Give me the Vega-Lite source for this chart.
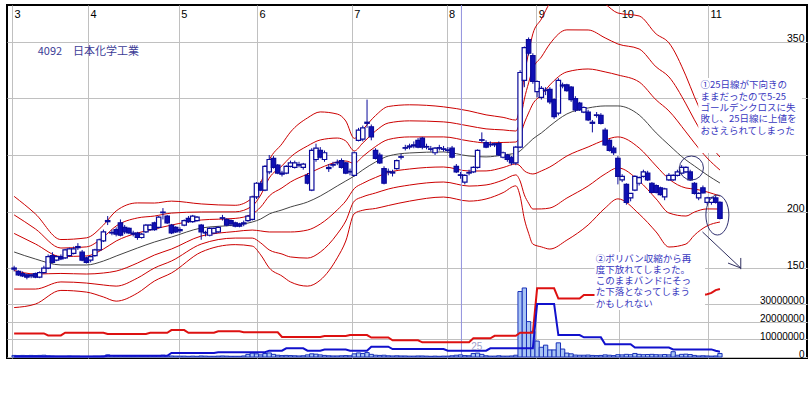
{
"$schema":"https://vega.github.io/schema/vega-lite/v6.json",
"width":800,"height":353,"autosize":"none",
"padding":{"left":7,"top":5,"right":4,"bottom":42},
"background":"white",
"config":{"view":{"stroke":"#000000","strokeWidth":2},"axis":{"labelFont":"Liberation Sans","labelColor":"#000000"}},
"datasets":{
"d":[
{"i":0,"o":149,"h":152,"l":147,"c":150,"v":0.9,"vr":13.3,"vb":0.3},
{"i":1,"o":147,"h":148,"l":143,"c":144,"v":0.8,"vr":13.3,"vb":0.3},
{"i":2,"o":145,"h":147,"l":142,"c":143,"v":0.9,"vr":13.3,"vb":0.3},
{"i":3,"o":144,"h":145,"l":140,"c":142,"v":0.8,"vr":13.3,"vb":0.3},
{"i":4,"o":143,"h":145,"l":141,"c":144,"v":0.9,"vr":13.3,"vb":0.3},
{"i":5,"o":145,"h":146,"l":141,"c":142,"v":0.8,"vr":13.3,"vb":0.3},
{"i":6,"o":142,"h":147,"l":141,"c":146,"v":0.9,"vr":13.3,"vb":0.3},
{"i":7,"o":146,"h":152,"l":145,"c":150,"v":1.0,"vr":13.3,"vb":0.3},
{"i":8,"o":150,"h":162,"l":149,"c":160,"v":0.7,"vr":12.2,"vb":0.3},
{"i":9,"o":161,"h":164,"l":154,"c":155,"v":0.6,"vr":12.2,"vb":0.3},
{"i":10,"o":157,"h":161,"l":156,"c":160,"v":0.5,"vr":12.2,"vb":0.3},
{"i":11,"o":160,"h":162,"l":157,"c":158,"v":0.5,"vr":12.2,"vb":0.3},
{"i":12,"o":159,"h":167,"l":158,"c":166,"v":0.5,"vr":13.7,"vb":0.3},
{"i":13,"o":161,"h":168,"l":160,"c":167,"v":0.6,"vr":13.7,"vb":0.3},
{"i":14,"o":163,"h":169,"l":162,"c":167,"v":0.5,"vr":13.7,"vb":0.3},
{"i":15,"o":168,"h":172,"l":166,"c":169,"v":0.5,"vr":13.7,"vb":0.3},
{"i":16,"o":164,"h":166,"l":156,"c":157,"v":0.4,"vr":13.7,"vb":0.3},
{"i":17,"o":159,"h":160,"l":154,"c":155,"v":0.4,"vr":13.7,"vb":0.3},
{"i":18,"o":157,"h":161,"l":155,"c":160,"v":0.4,"vr":13.7,"vb":0.3},
{"i":19,"o":161,"h":167,"l":160,"c":166,"v":0.5,"vr":13.7,"vb":0.3},
{"i":20,"o":166,"h":176,"l":165,"c":175,"v":0.5,"vr":13.7,"vb":0.3},
{"i":21,"o":174,"h":184,"l":173,"c":182,"v":0.6,"vr":13.7,"vb":0.3},
{"i":22,"o":191,"h":196,"l":188,"c":192,"v":1.2,"vr":13.0,"vb":0.7},
{"i":23,"o":181,"h":184,"l":179,"c":181.5,"v":0.8,"vr":13.0,"vb":0.7},
{"i":24,"o":184,"h":186,"l":178,"c":180,"v":0.6,"vr":13.0,"vb":0.7},
{"i":25,"o":190,"h":193,"l":178,"c":179,"v":0.6,"vr":13.0,"vb":0.7},
{"i":26,"o":186,"h":188,"l":180,"c":182,"v":0.5,"vr":13.0,"vb":0.7},
{"i":27,"o":185,"h":186,"l":180,"c":181,"v":0.5,"vr":13.0,"vb":0.7},
{"i":28,"o":181,"h":183,"l":178,"c":180,"v":0.4,"vr":13.0,"vb":0.7},
{"i":29,"o":181,"h":182,"l":175,"c":177,"v":0.5,"vr":13.0,"vb":0.7},
{"i":30,"o":177,"h":181,"l":176,"c":180,"v":0.4,"vr":13.0,"vb":0.7},
{"i":31,"o":182,"h":189,"l":181,"c":188,"v":0.5,"vr":13.0,"vb":0.7},
{"i":32,"o":184,"h":189,"l":183,"c":188,"v":0.6,"vr":13.7,"vb":0.7},
{"i":33,"o":190,"h":191,"l":183,"c":184,"v":0.5,"vr":13.7,"vb":0.7},
{"i":34,"o":186,"h":196,"l":185,"c":195,"v":0.6,"vr":13.7,"vb":0.7},
{"i":35,"o":199,"h":203,"l":193,"c":199.5,"v":1.0,"vr":13.7,"vb":0.7},
{"i":36,"o":196,"h":197,"l":189,"c":190,"v":0.7,"vr":13.7,"vb":0.7},
{"i":37,"o":188,"h":189,"l":180,"c":181,"v":0.6,"vr":15.2,"vb":2.3},
{"i":38,"o":186,"h":187,"l":181,"c":182,"v":0.5,"vr":15.2,"vb":2.3},
{"i":39,"o":183,"h":186,"l":181,"c":184,"v":0.5,"vr":15.2,"vb":2.3},
{"i":40,"o":188,"h":193,"l":187,"c":192,"v":0.5,"vr":15.2,"vb":2.3},
{"i":41,"o":194,"h":196,"l":190,"c":191,"v":0.4,"vr":13.7,"vb":2.3},
{"i":42,"o":191,"h":197,"l":190,"c":196,"v":0.5,"vr":13.7,"vb":2.3},
{"i":43,"o":192,"h":196,"l":191,"c":195,"v":0.4,"vr":13.7,"vb":2.3},
{"i":44,"o":188,"h":189,"l":175,"c":182,"v":0.6,"vr":13.7,"vb":2.3},
{"i":45,"o":181,"h":183,"l":178,"c":181.5,"v":0.5,"vr":13.7,"vb":2.3},
{"i":46,"o":179,"h":186,"l":178,"c":185,"v":0.4,"vr":13.7,"vb":2.3},
{"i":47,"o":181,"h":186,"l":180,"c":185,"v":0.4,"vr":13.7,"vb":2.3},
{"i":48,"o":182,"h":187,"l":181,"c":186,"v":0.5,"vr":14.5,"vb":2.7},
{"i":49,"o":194,"h":197,"l":192,"c":194.5,"v":0.6,"vr":14.5,"vb":2.7},
{"i":50,"o":193,"h":194,"l":187,"c":188,"v":0.5,"vr":14.5,"vb":2.7},
{"i":51,"o":192,"h":193,"l":187,"c":189,"v":0.4,"vr":14.5,"vb":2.7},
{"i":52,"o":190,"h":191,"l":186,"c":187,"v":0.4,"vr":14.5,"vb":2.7},
{"i":53,"o":189,"h":190,"l":186,"c":187,"v":0.4,"vr":14.5,"vb":2.7},
{"i":54,"o":189,"h":192,"l":187,"c":190,"v":0.6,"vr":14.0,"vb":2.7},
{"i":55,"o":192,"h":197,"l":191,"c":196,"v":1.5,"vr":14.0,"vb":2.7},
{"i":56,"o":193,"h":214,"l":192,"c":213,"v":2.2,"vr":14.0,"vb":2.7},
{"i":57,"o":213,"h":226,"l":211,"c":225,"v":1.8,"vr":14.0,"vb":2.7},
{"i":58,"o":225,"h":227,"l":218,"c":219,"v":1.2,"vr":14.0,"vb":2.7},
{"i":59,"o":219,"h":241,"l":218,"c":240,"v":2.0,"vr":14.0,"vb":2.7},
{"i":60,"o":235,"h":250,"l":233,"c":246,"v":2.3,"vr":14.0,"vb":3.6},
{"i":61,"o":247,"h":249,"l":238,"c":239,"v":1.5,"vr":14.0,"vb":3.6},
{"i":62,"o":241,"h":242,"l":233,"c":234,"v":1.0,"vr":14.0,"vb":3.6},
{"i":63,"o":233,"h":236,"l":231,"c":234,"v":0.8,"vr":11.3,"vb":3.6},
{"i":64,"o":234,"h":241,"l":233,"c":240,"v":0.9,"vr":11.3,"vb":4.9},
{"i":65,"o":240,"h":245,"l":239,"c":243,"v":0.8,"vr":11.3,"vb":4.9},
{"i":66,"o":239,"h":245,"l":238,"c":243,"v":0.7,"vr":11.3,"vb":4.9},
{"i":67,"o":241,"h":244,"l":239,"c":241.5,"v":0.6,"vr":11.3,"vb":4.9},
{"i":68,"o":239,"h":243,"l":237,"c":242,"v":0.7,"vr":11.3,"vb":4.9},
{"i":69,"o":232,"h":234,"l":224,"c":225,"v":1.2,"vr":11.3,"vb":3.6},
{"i":70,"o":219,"h":256,"l":218,"c":254,"v":1.8,"vr":11.3,"vb":3.6},
{"i":71,"o":246,"h":260,"l":244,"c":256,"v":1.6,"vr":11.3,"vb":3.6},
{"i":72,"o":254,"h":257,"l":247,"c":248,"v":1.2,"vr":11.3,"vb":3.6},
{"i":73,"o":246,"h":254,"l":244,"c":252,"v":0.9,"vr":11.9,"vb":4.2},
{"i":74,"o":238,"h":242,"l":235,"c":239,"v":0.7,"vr":11.9,"vb":4.2},
{"i":75,"o":241,"h":244,"l":239,"c":241.5,"v":0.6,"vr":11.9,"vb":4.2},
{"i":76,"o":243,"h":246,"l":241,"c":243.5,"v":0.6,"vr":11.9,"vb":4.2},
{"i":77,"o":245,"h":247,"l":238,"c":239,"v":0.7,"vr":11.9,"vb":4.2},
{"i":78,"o":243,"h":244,"l":233,"c":234,"v":0.8,"vr":11.9,"vb":4.2},
{"i":79,"o":235,"h":238,"l":232,"c":235.5,"v":0.7,"vr":12.4,"vb":3.6},
{"i":80,"o":232,"h":253,"l":231,"c":252,"v":1.8,"vr":12.4,"vb":3.6},
{"i":81,"o":263,"h":274,"l":262,"c":272,"v":2.3,"vr":12.4,"vb":3.6},
{"i":82,"o":264,"h":276,"l":262,"c":274,"v":2.0,"vr":12.4,"vb":3.6},
{"i":83,"o":278,"h":299,"l":274,"c":279,"v":2.5,"vr":12.4,"vb":3.6},
{"i":84,"o":275,"h":277,"l":263,"c":266,"v":1.5,"vr":11.0,"vb":5.8},
{"i":85,"o":254,"h":256,"l":246,"c":247,"v":1.0,"vr":11.0,"vb":5.8},
{"i":86,"o":250,"h":252,"l":242,"c":243,"v":0.9,"vr":11.0,"vb":5.8},
{"i":87,"o":238,"h":240,"l":224,"c":225,"v":1.0,"vr":11.0,"vb":5.8},
{"i":88,"o":235,"h":238,"l":232,"c":235.5,"v":0.7,"vr":11.0,"vb":5.8},
{"i":89,"o":234,"h":237,"l":231,"c":235,"v":0.6,"vr":9.4,"vb":4.5},
{"i":90,"o":238,"h":246,"l":237,"c":245,"v":0.7,"vr":9.4,"vb":4.5},
{"i":91,"o":248,"h":251,"l":246,"c":248.5,"v":0.6,"vr":9.4,"vb":4.5},
{"i":92,"o":256,"h":259,"l":254,"c":256.5,"v":0.6,"vr":9.4,"vb":4.5},
{"i":93,"o":257,"h":260,"l":255,"c":258,"v":0.5,"vr":9.4,"vb":4.5},
{"i":94,"o":258,"h":262,"l":256,"c":259,"v":0.5,"vr":9.4,"vb":4.5},
{"i":95,"o":263,"h":265,"l":256,"c":257,"v":0.6,"vr":9.4,"vb":4.5},
{"i":96,"o":265,"h":266,"l":255,"c":257,"v":0.6,"vr":8.3,"vb":4.5},
{"i":97,"o":257,"h":260,"l":255,"c":257.5,"v":0.5,"vr":8.3,"vb":4.5},
{"i":98,"o":255,"h":258,"l":253,"c":255.5,"v":0.4,"vr":8.3,"vb":4.5},
{"i":99,"o":252,"h":257,"l":250,"c":256,"v":0.5,"vr":8.3,"vb":4.5},
{"i":100,"o":256,"h":259,"l":254,"c":256.5,"v":0.4,"vr":8.3,"vb":4.5},
{"i":101,"o":255,"h":258,"l":253,"c":255.5,"v":0.5,"vr":8.3,"vb":4.5},
{"i":102,"o":254,"h":257,"l":252,"c":254.5,"v":0.5,"vr":8.3,"vb":3.6},
{"i":103,"o":256,"h":258,"l":247,"c":248,"v":0.7,"vr":8.3,"vb":3.6},
{"i":104,"o":240,"h":242,"l":234,"c":235,"v":1.0,"vr":8.3,"vb":3.6},
{"i":105,"o":232,"h":235,"l":229,"c":232.5,"v":1.2,"vr":8.3,"vb":3.6},
{"i":106,"o":226,"h":233,"l":224,"c":232,"v":0.8,"vr":8.3,"vb":3.6},
{"i":107,"o":234,"h":237,"l":232,"c":234.5,"v":0.7,"vr":8.3,"vb":3.6},
{"i":108,"o":235,"h":240,"l":234,"c":239,"v":2.0,"vr":10.6,"vb":3.6},
{"i":109,"o":239,"h":255,"l":238,"c":254,"v":2.2,"vr":10.6,"vb":3.6},
{"i":110,"o":263,"h":270,"l":261,"c":263.5,"v":1.5,"vr":10.6,"vb":3.6},
{"i":111,"o":261,"h":263,"l":256,"c":257,"v":0.7,"vr":10.6,"vb":3.6},
{"i":112,"o":259,"h":262,"l":257,"c":259.5,"v":0.5,"vr":10.6,"vb":4.9},
{"i":113,"o":259,"h":261,"l":257,"c":260,"v":0.5,"vr":12.0,"vb":4.9},
{"i":114,"o":260,"h":262,"l":249,"c":250,"v":0.7,"vr":12.0,"vb":4.9},
{"i":115,"o":248,"h":253,"l":247,"c":252,"v":0.5,"vr":12.0,"vb":4.9},
{"i":116,"o":250,"h":251,"l":244,"c":246,"v":0.5,"vr":12.0,"vb":4.9},
{"i":117,"o":248,"h":249,"l":241,"c":243,"v":0.6,"vr":12.0,"vb":4.9},
{"i":118,"o":243,"h":258,"l":241,"c":257,"v":1.0,"vr":12.0,"vb":4.9},
{"i":119,"o":257,"h":325,"l":256,"c":323,"v":37,"vr":13.7,"vb":4.9},
{"i":120,"o":316,"h":346,"l":310,"c":345,"v":39,"vr":13.7,"vb":4.9},
{"i":121,"o":352,"h":354,"l":338,"c":340,"v":20,"vr":13.7,"vb":4.9},
{"i":122,"o":338,"h":340,"l":313,"c":315,"v":14.5,"vr":13.7,"vb":4.9},
{"i":123,"o":306,"h":316,"l":301,"c":315,"v":9,"vr":38.8,"vb":30},
{"i":124,"o":301,"h":311,"l":299,"c":309,"v":5.5,"vr":38.8,"vb":30},
{"i":125,"o":307,"h":310,"l":303,"c":307.5,"v":6.7,"vr":38.8,"vb":30},
{"i":126,"o":308,"h":310,"l":295,"c":297,"v":4,"vr":38.8,"vb":30},
{"i":127,"o":299,"h":300,"l":282,"c":284,"v":4,"vr":38.8,"vb":30},
{"i":128,"o":287,"h":318,"l":285,"c":316,"v":8,"vr":33.0,"vb":12.4},
{"i":129,"o":311,"h":314,"l":309,"c":312,"v":4.5,"vr":33.0,"vb":12.4},
{"i":130,"o":312,"h":313,"l":306,"c":307,"v":2.2,"vr":33.0,"vb":12.4},
{"i":131,"o":310,"h":311,"l":297,"c":299,"v":1.8,"vr":33.0,"vb":12.4},
{"i":132,"o":300,"h":302,"l":288,"c":290,"v":1.1,"vr":33.0,"vb":12.4},
{"i":133,"o":296,"h":297,"l":289,"c":290,"v":1.0,"vr":33.0,"vb":12.4},
{"i":134,"o":288,"h":293,"l":287,"c":292,"v":1.0,"vr":35.0,"vb":11.1},
{"i":135,"o":288,"h":290,"l":280,"c":281,"v":1.1,"vr":35.0,"vb":11.1},
{"i":136,"o":278,"h":281,"l":270,"c":279,"v":0.9,"vr":35.0,"vb":11.1},
{"i":137,"o":285,"h":288,"l":283,"c":285.5,"v":0.8,"vr":35.0,"vb":11.1},
{"i":138,"o":285,"h":287,"l":277,"c":278,"v":0.9,"vr":35.0,"vb":11.1},
{"i":139,"o":272,"h":274,"l":258,"c":259,"v":1.2,"vr":35.0,"vb":7.2},
{"i":140,"o":263,"h":264,"l":253,"c":254,"v":1.0,"vr":35.0,"vb":7.2},
{"i":141,"o":256,"h":258,"l":250,"c":252,"v":0.8,"vr":35.0,"vb":7.2},
{"i":142,"o":247,"h":249,"l":224,"c":231,"v":1.3,"vr":35.0,"vb":7.2},
{"i":143,"o":228,"h":233,"l":226,"c":231,"v":1.2,"vr":35.0,"vb":7.2},
{"i":144,"o":224,"h":225,"l":206,"c":208,"v":1.5,"vr":35.0,"vb":7.2},
{"i":145,"o":212,"h":216,"l":209,"c":216,"v":1.3,"vr":35.0,"vb":7.2},
{"i":146,"o":219,"h":232,"l":218,"c":231,"v":2.0,"vr":35.0,"vb":5.3},
{"i":147,"o":225,"h":231,"l":223,"c":230,"v":1.5,"vr":35.0,"vb":5.3},
{"i":148,"o":231,"h":237,"l":230,"c":235,"v":1.3,"vr":35.0,"vb":5.3},
{"i":149,"o":234,"h":236,"l":227,"c":228,"v":1.4,"vr":35.0,"vb":5.3},
{"i":150,"o":225,"h":226,"l":216,"c":217,"v":1.5,"vr":35.0,"vb":5.3},
{"i":151,"o":223,"h":224,"l":216,"c":217,"v":1.3,"vr":35.0,"vb":5.3},
{"i":152,"o":221,"h":222,"l":214,"c":215,"v":1.2,"vr":35.0,"vb":5.3},
{"i":153,"o":213,"h":221,"l":210,"c":220,"v":1.4,"vr":35.0,"vb":5.3},
{"i":154,"o":228,"h":234,"l":227,"c":232,"v":1.2,"vr":35.0,"vb":5.3},
{"i":155,"o":228,"h":233,"l":227,"c":232,"v":3.0,"vr":35.0,"vb":4.3},
{"i":156,"o":232,"h":237,"l":231,"c":235,"v":1.0,"vr":35.0,"vb":4.3},
{"i":157,"o":234,"h":241,"l":233,"c":239,"v":1.5,"vr":35.0,"vb":4.3},
{"i":158,"o":235,"h":240,"l":234,"c":239,"v":1.6,"vr":35.0,"vb":4.3},
{"i":159,"o":235,"h":237,"l":227,"c":228,"v":1.4,"vr":35.0,"vb":4.3},
{"i":160,"o":225,"h":226,"l":215,"c":216,"v":0.9,"vr":35.0,"vb":4.3},
{"i":161,"o":212,"h":217,"l":210,"c":216,"v":0.6,"vr":35.0,"vb":4.3},
{"i":162,"o":221,"h":223,"l":216,"c":216.5,"v":0.7,"vr":35.0,"vb":4.3},
{"i":163,"o":208,"h":213,"l":206,"c":212,"v":0.6,"vr":35.5,"vb":4.3},
{"i":164,"o":208,"h":213,"l":206,"c":212,"v":0.5,"vr":36.2,"vb":4.3},
{"i":165,"o":212,"h":214,"l":207,"c":208,"v":0.6,"vr":37.8,"vb":3.5},
{"i":166,"o":208,"h":209,"l":193,"c":194,"v":2.0,"vr":38.4,"vb":3.0}
],
"b":[
{"i":0,"u3":213.4,"u2":197.0,"u1":180.6,"m":164.2,"l1":147.8,"l2":131.4,"l3":115.0},
{"i":5,"u3":197.9,"u2":184.6,"u1":171.3,"m":158.0,"l1":144.7,"l2":131.4,"l3":118.1},
{"i":11,"u3":175.2,"u2":167.7,"u1":160.2,"m":152.7,"l1":145.2,"l2":137.7,"l3":130.2},
{"i":17,"u3":176.7,"u2":168.7,"u1":160.7,"m":152.7,"l1":144.7,"l2":136.7,"l3":128.7},
{"i":21,"u3":188.0,"u2":177.4,"u1":166.8,"m":156.2,"l1":145.6,"l2":135.0,"l3":124.4},
{"i":24,"u3":200.5,"u2":187.2,"u1":173.9,"m":160.6,"l1":147.3,"l2":134.0,"l3":120.7},
{"i":29,"u3":207.6,"u2":194.3,"u1":181.0,"m":167.7,"l1":154.4,"l2":141.1,"l3":127.8},
{"i":33,"u3":207.5,"u2":196.0,"u1":184.5,"m":173.0,"l1":161.5,"l2":150.0,"l3":138.5},
{"i":37,"u3":209.2,"u2":198.6,"u1":188.0,"m":177.4,"l1":166.8,"l2":156.2,"l3":145.6},
{"i":44,"u3":206.7,"u2":199.6,"u1":192.5,"m":185.4,"l1":178.3,"l2":171.2,"l3":164.1},
{"i":52,"u3":205.5,"u2":199.7,"u1":193.9,"m":188.1,"l1":182.3,"l2":176.5,"l3":170.7},
{"i":56,"u3":212.0,"u2":204.9,"u1":197.8,"m":190.7,"l1":183.6,"l2":176.5,"l3":169.4},
{"i":58,"u3":225.2,"u2":214.6,"u1":204.0,"m":193.4,"l1":182.8,"l2":172.2,"l3":161.6},
{"i":60,"u3":245.5,"u2":229.6,"u1":213.7,"m":197.8,"l1":181.9,"l2":166.0,"l3":150.1},
{"i":63,"u3":259.9,"u2":240.4,"u1":220.9,"m":201.4,"l1":181.9,"l2":162.4,"l3":142.9},
{"i":65,"u3":270.3,"u2":248.2,"u1":226.1,"m":204.0,"l1":181.9,"l2":159.8,"l3":137.7},
{"i":69,"u3":282.8,"u2":258.0,"u1":233.2,"m":208.4,"l1":183.6,"l2":158.8,"l3":134.0},
{"i":72,"u3":288.1,"u2":263.3,"u1":238.5,"m":213.7,"l1":188.9,"l2":164.1,"l3":139.3},
{"i":76,"u3":286.2,"u2":265.0,"u1":243.8,"m":222.6,"l1":201.4,"l2":180.2,"l3":159.0},
{"i":78,"u3":280.1,"u2":262.4,"u1":244.7,"m":227.0,"l1":209.3,"l2":191.6,"l3":173.9},
{"i":80,"u3":264.7,"u2":253.6,"u1":242.5,"m":231.4,"l1":220.3,"l2":209.2,"l3":198.1},
{"i":82,"u3":272.5,"u2":260.6,"u1":248.7,"m":236.8,"l1":224.9,"l2":213.0,"l3":201.1},
{"i":85,"u3":284.9,"u2":271.2,"u1":257.5,"m":243.8,"l1":230.1,"l2":216.4,"l3":202.7},
{"i":88,"u3":292.9,"u2":278.3,"u1":263.7,"m":249.1,"l1":234.5,"l2":219.9,"l3":205.3},
{"i":93,"u3":294.4,"u2":280.2,"u1":266.0,"m":251.8,"l1":237.6,"l2":223.4,"l3":209.2},
{"i":101,"u3":292.6,"u2":279.3,"u1":266.0,"m":252.7,"l1":239.4,"l2":226.1,"l3":212.8},
{"i":107,"u3":289.0,"u2":275.7,"u1":262.4,"m":249.1,"l1":235.8,"l2":222.5,"l3":209.2},
{"i":111,"u3":285.5,"u2":273.1,"u1":260.7,"m":248.3,"l1":235.9,"l2":223.5,"l3":211.1},
{"i":115,"u3":283.3,"u2":272.2,"u1":261.1,"m":250.0,"l1":238.9,"l2":227.8,"l3":216.7},
{"i":118,"u3":280.9,"u2":271.2,"u1":261.5,"m":251.8,"l1":242.1,"l2":232.4,"l3":222.7},
{"i":119,"u3":293.5,"u2":280.2,"u1":266.9,"m":253.6,"l1":240.3,"l2":227.0,"l3":213.7},
{"i":120,"u3":320.7,"u2":299.5,"u1":278.3,"m":257.1,"l1":235.9,"l2":214.7,"l3":193.5},
{"i":121,"u3":340.4,"u2":313.8,"u1":287.2,"m":260.6,"l1":234.0,"l2":207.4,"l3":180.8},
{"i":122,"u3":357.2,"u2":326.2,"u1":295.2,"m":264.2,"l1":233.2,"l2":202.2,"l3":171.2},
{"i":124,"u3":370.3,"u2":336.7,"u1":303.1,"m":269.5,"l1":235.9,"l2":202.3,"l3":168.7},
{"i":126,"u3":384.6,"u2":348.3,"u1":312.0,"m":275.7,"l1":239.4,"l2":203.1,"l3":166.8},
{"i":130,"u3":397.9,"u2":360.7,"u1":323.5,"m":286.3,"l1":249.1,"l2":211.9,"l3":174.7},
{"i":135,"u3":395.1,"u2":360.6,"u1":326.1,"m":291.6,"l1":257.1,"l2":222.6,"l3":188.1},
{"i":139,"u3":383.7,"u2":353.6,"u1":323.5,"m":293.4,"l1":263.3,"l2":233.2,"l3":203.1},
{"i":142,"u3":375.6,"u2":348.2,"u1":320.8,"m":293.4,"l1":266.0,"l2":238.6,"l3":211.2},
{"i":147,"u3":373.0,"u2":343.8,"u1":314.6,"m":285.4,"l1":256.2,"l2":227.0,"l3":197.8},
{"i":151,"u3":357.1,"u2":327.9,"u1":298.7,"m":269.5,"l1":240.3,"l2":211.1,"l3":181.9},
{"i":154,"u3":349.2,"u2":319.1,"u1":289.0,"m":258.9,"l1":228.8,"l2":198.7,"l3":168.6},
{"i":158,"u3":320.0,"u2":295.2,"u1":270.4,"m":245.6,"l1":220.8,"l2":196.0,"l3":171.2},
{"i":160,"u3":301.5,"u2":281.1,"u1":260.7,"m":240.3,"l1":219.9,"l2":199.5,"l3":179.1},
{"i":163,"u3":277.3,"u2":262.3,"u1":247.3,"m":232.3,"l1":217.3,"l2":202.3,"l3":187.3},
{"i":166,"u3":259.7,"u2":248.2,"u1":236.7,"m":225.2,"l1":213.7,"l2":202.2,"l3":190.7}
],
"vline":[{"i":105.2}],
"vlabel":[{"i":107.5,"v":5.6,"t":"25"}],
"boxes":[{"i":160.9,"i2":185.3,"p":318.2,"p2":251.8},{"i":136.5,"i2":162.5,"p":164.2,"p2":112.9}],
"notes":[
{"i":161.4,"p":311.5,"t":"①25日線が下向きの\nままだったので5-25\nゴールデンクロスに失\n敗し、25日線に上値を\nおさえられてしまった"},
{"i":136.8,"p":158.4,"t":"②ボリバン収縮から再\n度下放れてしまった。\nこのままバンドにそっ\nた下落となってしまう\nかもしれない"}
],
"title":[{"i":5.54,"p":340.7,"t":"4092　日本化学工業"}],
"circ":[{"i":159.3,"p":238.5}],
"ell":[{"i":165.4,"p":196.9}],
"arrow":[
{"i":161.9,"p":181.9,"i2":170.9,"p2":150.0},
{"i":167.9,"p":154.4,"i2":170.9,"p2":150.0},
{"i":170.9,"p":158.9,"i2":170.9,"p2":149.0}
]
},
"resolve":{"scale":{"y":"independent"}},
"layer":[
{
"data":{"name":"b"},
"transform":[{"fold":["u3","u2","u1","l1","l2","l3"],"as":["band","val"]}],
"mark":{"type":"line","color":"#cc0000","strokeWidth":1,"interpolate":"monotone","clip":true},
"encoding":{
"x":{"field":"i","type":"quantitative","scale":{"domain":[-0.5,185.3],"nice":false,"zero":false},
"axis":{"orient":"top","values":[-0.5,17.4,38.7,57.1,79.4,101.7,122.8,142.3,163.2],
"labelExpr":"datum.value < 0 ? '3' : datum.value < 20 ? '4' : datum.value < 40 ? '5' : datum.value < 60 ? '6' : datum.value < 90 ? '7' : datum.value < 110 ? '8' : datum.value < 130 ? '9' : datum.value < 150 ? '10' : '11'",
"grid":true,"gridColor":"#c0c0c0","gridWidth":1,"domain":false,"ticks":false,"tickSize":0,
"labelAlign":"left","labelBaseline":"alphabetic","labelPadding":-12,"labelOffset":2,"labelFontSize":11,
"labelFlush":false,"labelOverlap":false,"title":null}},
"y":{"field":"val","type":"quantitative","scale":{"domain":[70.4,382.7],"nice":false,"zero":false},
"axis":{"orient":"right","values":[150,200,250,300,350],"labelExpr":"datum.value == 250 || datum.value == 300 ? '' : datum.label","grid":true,"gridColor":"#c0c0c0","domain":false,"ticks":false,"tickSize":0,
"labelAlign":"right","labelBaseline":"alphabetic","labelPadding":-3,"labelFontSize":10.5,"title":null}},
"detail":{"field":"band"}
}
},
{
"data":{"name":"b"},
"mark":{"type":"line","color":"#444444","strokeWidth":1,"interpolate":"monotone","clip":true},
"encoding":{
"x":{"field":"i","type":"quantitative"},
"y":{"field":"m","type":"quantitative","scale":{"domain":[70.4,382.7],"nice":false,"zero":false},"axis":null}
}
},
{
"data":{"name":"vline"},
"mark":{"type":"rule","color":"#9090dd","strokeWidth":1},
"encoding":{"x":{"field":"i","type":"quantitative"}}
},
{
"data":{"name":"d"},
"mark":{"type":"bar","size":4.3,"fill":"#a8c4f4","stroke":"#1830b8","strokeWidth":1},
"encoding":{
"x":{"field":"i","type":"quantitative"},
"y":{"field":"v","type":"quantitative","scale":{"domain":[-0.565,198.9],"nice":false,"zero":false},
"axis":{"orient":"right","values":[0,10,20,30],"labelExpr":"format(datum.value*1000000,'d')","grid":true,"gridColor":"#c0c0c0","domain":false,"ticks":false,"tickSize":0,
"labelAlign":"right","labelBaseline":"alphabetic","labelPadding":-3,"labelFontSize":10,"title":null}},
"y2":{"datum":0}
}
},
{
"data":{"name":"d"},
"mark":{"type":"line","color":"#dd1111","strokeWidth":2,"interpolate":"linear"},
"encoding":{
"x":{"field":"i","type":"quantitative"},
"y":{"field":"vr","type":"quantitative","scale":{"domain":[-0.565,198.9],"nice":false,"zero":false},"axis":null}
}
},
{
"data":{"name":"d"},
"mark":{"type":"line","color":"#1111cc","strokeWidth":2,"interpolate":"linear"},
"encoding":{
"x":{"field":"i","type":"quantitative"},
"y":{"field":"vb","type":"quantitative","scale":{"domain":[-0.565,198.9],"nice":false,"zero":false},"axis":null}
}
},
{
"data":{"name":"vlabel"},
"mark":{"type":"text","align":"left","baseline":"middle","font":"Liberation Sans","fontSize":10,"color":"#a0a0cc"},
"encoding":{
"x":{"field":"i","type":"quantitative"},
"y":{"field":"v","type":"quantitative","scale":{"domain":[-0.565,198.9],"nice":false,"zero":false},"axis":null},
"text":{"field":"t"}
}
},
{
"data":{"name":"d"},
"mark":{"type":"rule","color":"#0a0a9a","strokeWidth":1},
"encoding":{
"x":{"field":"i","type":"quantitative"},
"y":{"field":"l","type":"quantitative","scale":{"domain":[70.4,382.7],"nice":false,"zero":false},"axis":null},
"y2":{"field":"h"}
}
},
{
"data":{"name":"d"},
"mark":{"type":"bar","size":4.4,"stroke":"#0a0a9a","strokeWidth":1.2},
"encoding":{
"x":{"field":"i","type":"quantitative"},
"y":{"field":"o","type":"quantitative","scale":{"domain":[70.4,382.7],"nice":false,"zero":false},"axis":null},
"y2":{"field":"c"},
"fill":{"condition":{"test":"datum.c < datum.o","value":"#1010b4"},"value":"#ffffff"}
}
},
{
"data":{"name":"boxes"},
"mark":{"type":"rect","fill":"#ffffff","stroke":null},
"encoding":{
"x":{"field":"i","type":"quantitative"},
"x2":{"field":"i2"},
"y":{"field":"p","type":"quantitative","scale":{"domain":[70.4,382.7],"nice":false,"zero":false},"axis":null},
"y2":{"field":"p2"}
}
},
{
"data":{"name":"notes"},
"mark":{"type":"text","align":"left","baseline":"middle","font":"Noto Sans CJK JP","fontSize":9.5,"lineBreak":"\n","lineHeight":11.3,"color":"#3838c0"},
"encoding":{
"x":{"field":"i","type":"quantitative"},
"y":{"field":"p","type":"quantitative","scale":{"domain":[70.4,382.7],"nice":false,"zero":false},"axis":null},
"text":{"field":"t"}
}
},
{
"data":{"name":"title"},
"mark":{"type":"text","align":"left","baseline":"middle","font":"Noto Sans CJK JP","fontSize":11,"color":"#3c3c96"},
"encoding":{
"x":{"field":"i","type":"quantitative"},
"y":{"field":"p","type":"quantitative","scale":{"domain":[70.4,382.7],"nice":false,"zero":false},"axis":null},
"text":{"field":"t"}
}
},
{
"data":{"name":"circ"},
"mark":{"type":"point","shape":"circle","size":576,"filled":false,"stroke":"#303070","strokeWidth":1,"opacity":1},
"encoding":{
"x":{"field":"i","type":"quantitative"},
"y":{"field":"p","type":"quantitative","scale":{"domain":[70.4,382.7],"nice":false,"zero":false},"axis":null}
}
},
{
"data":{"name":"ell"},
"mark":{"type":"point","shape":"M -0.575 0 A 0.575 1 0 1 1 0.575 0 A 0.575 1 0 1 1 -0.575 0 Z","size":1600,"filled":false,"stroke":"#303070","strokeWidth":1,"opacity":1},
"encoding":{
"x":{"field":"i","type":"quantitative"},
"y":{"field":"p","type":"quantitative","scale":{"domain":[70.4,382.7],"nice":false,"zero":false},"axis":null}
}
},
{
"data":{"name":"arrow"},
"mark":{"type":"rule","color":"#303060","strokeWidth":1},
"encoding":{
"x":{"field":"i","type":"quantitative"},
"x2":{"field":"i2"},
"y":{"field":"p","type":"quantitative","scale":{"domain":[70.4,382.7],"nice":false,"zero":false},"axis":null},
"y2":{"field":"p2"}
}
}
]
}
